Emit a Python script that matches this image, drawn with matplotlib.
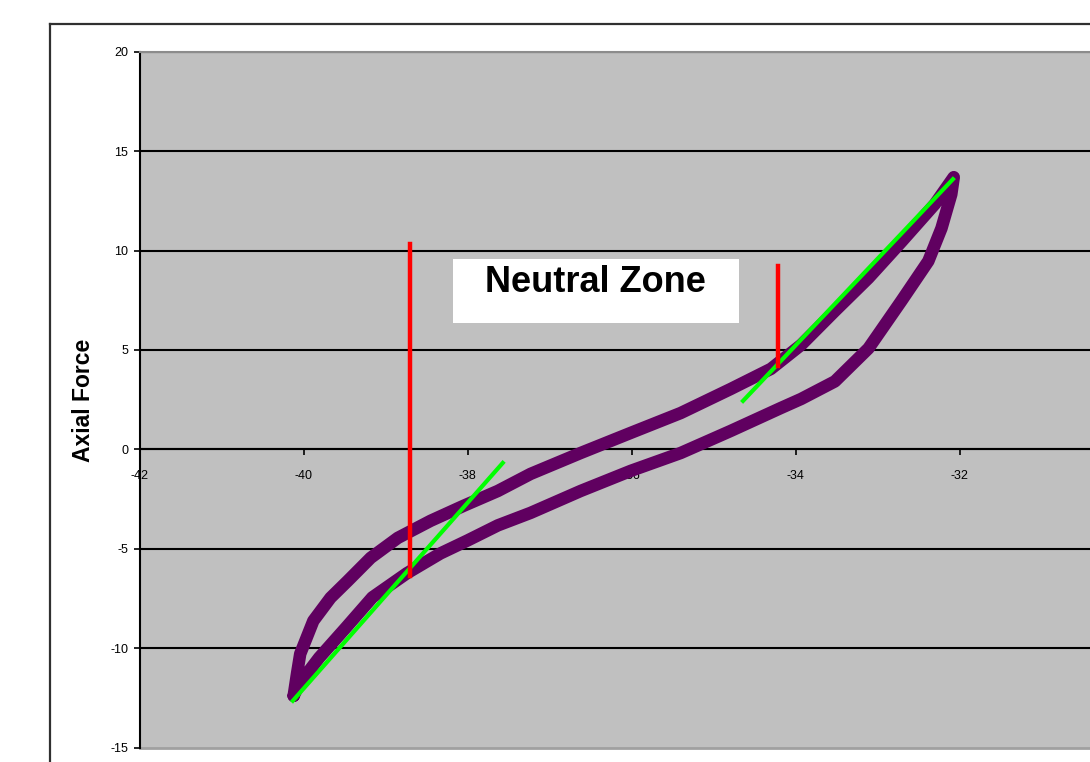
import matplotlib
matplotlib.use("Agg")
import matplotlib.pyplot as plt
from matplotlib.lines import Line2D
from matplotlib.patches import Rectangle

plt.rcParams['font.family'] = ['Liberation Sans', 'DejaVu Sans']

# Hysteresis loop: displacement (x) vs axial force (y)
upper_x = [-40.12, -40.08, -40.04, -39.88, -39.67, -39.46, -39.18, -38.85, -38.45,
           -38.05, -37.63, -37.23, -36.62, -36.01, -35.40, -34.79, -34.30,
           -33.93, -33.52, -33.11, -32.70, -32.30, -32.07]
upper_y = [-12.39, -11.30, -10.28, -8.62, -7.46, -6.61, -5.45, -4.45, -3.59,
           -2.84, -2.09, -1.23, -0.18, 0.83, 1.83, 3.04, 4.05,
           5.26, 6.96, 8.62, 10.48, 12.34, 13.69]
lower_x = [-32.07, -32.10, -32.22, -32.38, -32.71, -33.11, -33.52, -33.93,
           -34.18, -34.79, -35.40, -36.01, -36.62, -37.23, -37.63, -38.00,
           -38.33, -38.74, -39.16, -39.48, -39.81, -40.05, -40.12]
lower_y = [13.69, 12.83, 11.12, 9.47, 7.46, 5.08, 3.42, 2.54,
           2.08, 0.93, -0.18, -1.08, -2.09, -3.19, -3.82, -4.58,
           -5.23, -6.23, -7.44, -8.95, -10.48, -11.78, -12.39]

# Tangent (stiffness) lines
green1_x = [-40.13, -37.57]
green1_y = [-12.64, -0.68]
green2_x = [-34.64, -32.08]
green2_y = [2.44, 13.59]

# Neutral-zone markers
red1_x = [-38.70, -38.70]
red1_y = [10.33, -6.36]
red2_x = [-34.21, -34.21]
red2_y = [9.22, 4.20]

x_ticks = [-42, -40, -38, -36, -34, -32]
x_ticklabels = ['-42', '-40', '-38', '-36', '-34', '-32']
y_ticks = [-15, -10, -5, 0, 5, 10, 15, 20]
y_ticklabels = ['-15', '-10', '-5', '0', '5', '10', '15', '20']

W, H = 1090, 762
fig = plt.figure(figsize=(W / 100, H / 100), dpi=100)
fig.patch.set_facecolor('white')

ax = fig.add_axes([139.5 / W, 14.3 / H, 984 / W, 696 / H])
ax.set_facecolor('#C0C0C0')
ax.set_xlim(-42, -30)
ax.set_ylim(-15, 20)

for yv in y_ticks[1:]:
    ax.axhline(yv, color='black', lw=1.5, zorder=1)

ax.plot(upper_x + lower_x, upper_y + lower_y, color='#600060', lw=9,
        solid_joinstyle='round', solid_capstyle='round', zorder=3)
ax.plot(green1_x, green1_y, color='#00FF00', lw=3, zorder=4)
ax.plot(green2_x, green2_y, color='#00FF00', lw=3, zorder=4)
ax.plot(red1_x, red1_y, color='#FF0000', lw=3.2, zorder=5)
ax.plot(red2_x, red2_y, color='#FF0000', lw=3.2, zorder=5)

ax.spines['bottom'].set_position(('data', 0))
ax.spines['bottom'].set_color('black')
ax.spines['bottom'].set_linewidth(1.5)
ax.spines['left'].set_color('black')
ax.spines['left'].set_linewidth(1.5)
ax.spines['top'].set_color('#8C8C8C')
ax.spines['top'].set_linewidth(1.5)
ax.spines['right'].set_visible(False)

ax.set_xticks(x_ticks)
ax.set_xticklabels(x_ticklabels)
ax.set_yticks(y_ticks)
ax.set_yticklabels(y_ticklabels)
ax.tick_params(axis='x', direction='out', length=4, width=1.2, pad=11,
               labelsize=9, colors='black')
ax.tick_params(axis='y', direction='out', length=4, width=1.2, pad=4,
               labelsize=9, colors='black')

# plot-area bottom border (light gray)
ax.axhline(-15, color='#A0A0A0', lw=2, zorder=2, clip_on=False)

# Neutral Zone label box
fig.patches.append(Rectangle((453 / W, 1 - 323 / H), (739 - 453) / W, (323 - 259) / H,
                             transform=fig.transFigure, facecolor='white',
                             edgecolor='none', zorder=10))
fig.text(595 / W, 1 - 282 / H, 'Neutral Zone', ha='center', va='center',
         fontsize=26, fontweight='bold', color='black', zorder=11)

# Axis title
fig.text(83 / W, 1 - 400 / H, 'Axial Force', rotation=90, ha='center',
         va='center', fontsize=16.5, fontweight='bold', color='black')

# Outer chart frame (cropped)
fig.add_artist(Line2D([50 / W, 50 / W], [0, 1 - 24 / H], transform=fig.transFigure,
                      color='#303030', lw=1.6))
fig.add_artist(Line2D([50 / W, 1.0], [1 - 24 / H, 1 - 24 / H], transform=fig.transFigure,
                      color='#303030', lw=1.6))

fig.savefig('out.png', dpi=100)
